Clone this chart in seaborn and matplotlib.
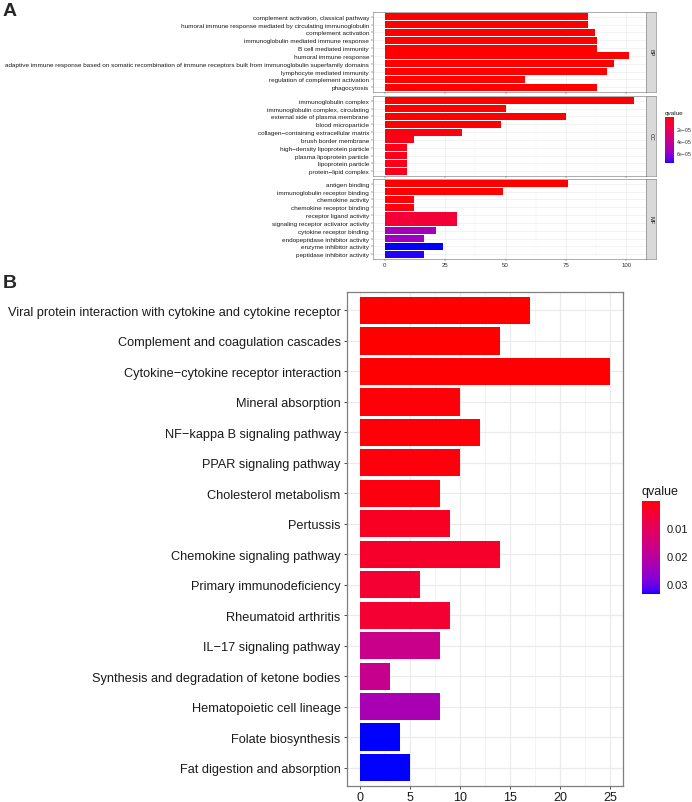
import numpy as np
import pandas as pd
import matplotlib
matplotlib.use("Agg")
import matplotlib.pyplot as plt
import seaborn as sns
from matplotlib.colors import ListedColormap, Normalize
from matplotlib.cm import ScalarMappable

# ---------------- data ----------------
bp_terms = ["complement activation, classical pathway",
            "humoral immune response mediated by circulating immunoglobulin",
            "complement activation",
            "immunoglobulin mediated immune response",
            "B cell mediated immunity",
            "humoral immune response",
            "adaptive immune response based on somatic recombination of immune receptors built from immunoglobulin superfamily domains",
            "lymphocyte mediated immunity",
            "regulation of complement activation",
            "phagocytosis"]
bp_counts = [84, 84, 87, 88, 88, 101, 95, 92, 58, 88]
bp_q = [1e-12, 1e-12, 1e-12, 1e-12, 1e-12, 1e-12, 1e-12, 1e-12, 1e-11, 1e-11]

cc_terms = ["immunoglobulin complex",
            "immunoglobulin complex, circulating",
            "external side of plasma membrane",
            "blood microparticle",
            "collagen\u2212containing extracellular matrix",
            "brush border membrane",
            "high\u2212density lipoprotein particle",
            "plasma lipoprotein particle",
            "lipoprotein particle",
            "protein\u2212lipid complex"]
cc_counts = [103, 50, 75, 48, 32, 12, 9, 9, 9, 9]
cc_q = [1e-12, 1e-9, 1e-10, 1e-8, 2e-6, 3e-6, 3.5e-6, 4e-6, 4e-6, 4e-6]

mf_terms = ["antigen binding",
            "immunoglobulin receptor binding",
            "chemokine activity",
            "chemokine receptor binding",
            "receptor ligand activity",
            "signaling receptor activator activity",
            "cytokine receptor binding",
            "endopeptidase inhibitor activity",
            "enzyme inhibitor activity",
            "peptidase inhibitor activity"]
mf_counts = [76, 49, 12, 12, 30, 30, 21, 16, 24, 16]
mf_q = [1e-12, 1e-9, 1e-6, 2e-6, 1.1e-5, 1.1e-5, 5.4e-5, 5.6e-5, 7.6e-5, 7.5e-5]

kegg_terms = ["Viral protein interaction with cytokine and cytokine receptor",
              "Complement and coagulation cascades",
              "Cytokine\u2212cytokine receptor interaction",
              "Mineral absorption",
              "NF\u2212kappa B signaling pathway",
              "PPAR signaling pathway",
              "Cholesterol metabolism",
              "Pertussis",
              "Chemokine signaling pathway",
              "Primary immunodeficiency",
              "Rheumatoid arthritis",
              "IL\u221217 signaling pathway",
              "Synthesis and degradation of ketone bodies",
              "Hematopoietic cell lineage",
              "Folate biosynthesis",
              "Fat digestion and absorption"]
kegg_counts = [17, 14, 25, 10, 12, 10, 8, 9, 14, 6, 9, 8, 3, 8, 4, 5]
kegg_q = [0.0001, 0.0002, 0.0003, 0.0005, 0.0006, 0.0008, 0.0010, 0.0028,
          0.0035, 0.0045, 0.0045, 0.0170, 0.0175, 0.0230, 0.0335, 0.0335]

go_cbar_ticks = [2e-05, 4e-05, 6e-05]
go_cbar_labels = ["2e\u221205", "4e\u221205", "6e\u221205"]
kegg_cbar_ticks = [0.01, 0.02, 0.03]
kegg_cbar_labels = ["0.01", "0.02", "0.03"]

# ---------------- colour ramp (Lab interpolation red -> blue, like ggplot) ----------------
def _f(t):
    d = 6 / 29
    return np.where(t > d ** 3, np.cbrt(t), t / (3 * d * d) + 4 / 29)

def _finv(t):
    d = 6 / 29
    return np.where(t > d, t ** 3, 3 * d * d * (t - 4 / 29))

M = np.array([[0.4124, 0.3576, 0.1805], [0.2126, 0.7152, 0.0722], [0.0193, 0.1192, 0.9505]])
WHITE = np.array([0.95047, 1.0, 1.08883])

def rgb2lab(rgb):
    c = np.asarray(rgb, float)
    lin = np.where(c <= 0.04045, c / 12.92, ((c + 0.055) / 1.055) ** 2.4)
    xyz = M @ lin / WHITE
    fx_, fy_, fz_ = _f(xyz)
    return np.array([116 * fy_ - 16, 500 * (fx_ - fy_), 200 * (fy_ - fz_)])

def lab2rgb(lab):
    L, a, b = lab
    fy_ = (L + 16) / 116
    fx_ = fy_ + a / 500
    fz_ = fy_ - b / 200
    xyz = np.array([_finv(fx_), _finv(fy_), _finv(fz_)]) * WHITE
    lin = np.linalg.solve(M, xyz)
    lin = np.clip(lin, 0, 1)
    c = np.where(lin <= 0.0031308, 12.92 * lin, 1.055 * lin ** (1 / 2.4) - 0.055)
    return np.clip(c, 0, 1)

lab_r = rgb2lab([1, 0, 0])
lab_b = rgb2lab([0, 0, 1])
ramp = [lab2rgb(lab_r * (1 - t) + lab_b * t) for t in np.linspace(0, 1, 256)]
cmap = ListedColormap(ramp)

# ---------------- figure ----------------
sns.set_theme(style="white")
plt.rcParams["font.family"] = ["Liberation Sans", "DejaVu Sans"]

W, H = 692, 803
fig = plt.figure(figsize=(W / 100, H / 100), dpi=100)

def fx(x):
    return x / W

def fy(y):
    return 1 - y / H

GRID = "#EBEBEB"
BORDER = "#7F7F7F"

def style_axes(ax, n, xmax, major, lw_scale, tick_len, tick_pad, lab_size, xlab_size, show_x):
    ax.set_ylim(n - 1 + 0.6, -0.6)
    ax.set_xlim(-0.05 * xmax, xmax * 1.05)
    ax.set_xticks(np.arange(0, xmax + 0.01, major))
    ax.set_xticks(np.arange(major / 2, xmax * 1.05, major), minor=True)
    ax.set_axisbelow(True)
    ax.grid(True, which="major", color=GRID, lw=0.9 * lw_scale)
    ax.grid(True, which="minor", axis="x", color="#F3F3F3", lw=0.6 * lw_scale)
    for s in ax.spines.values():
        s.set_color(BORDER)
        s.set_linewidth(0.9 * lw_scale)
    ax.set_xlabel("")
    ax.set_ylabel("")
    ax.tick_params(axis="both", which="major", length=tick_len, width=0.6 * lw_scale,
                   color="#333333", pad=tick_pad, left=True, bottom=True)
    ax.tick_params(axis="y", labelsize=lab_size, labelcolor="#1a1a1a")
    ax.tick_params(axis="x", labelsize=xlab_size, labelcolor="#333333")
    ax.tick_params(axis="x", which="minor", length=0)
    if not show_x:
        ax.tick_params(axis="x", labelbottom=False)

# ---- Panel A ----
go_sets = [("BP", bp_terms, bp_counts, bp_q, 13, 93),
           ("CC", cc_terms, cc_counts, cc_q, 97, 177),
           ("MF", mf_terms, mf_counts, mf_q, 180, 260)]
go_norm = Normalize(vmin=0, vmax=7.6e-05)
x0A, x1A = 372.5, 646
for i, (name, terms, counts, qs, top, bot) in enumerate(go_sets):
    ax = fig.add_axes([fx(x0A), fy(bot), fx(x1A - x0A), (bot - top) / H])
    df = pd.DataFrame({"term": terms, "count": counts, "q": qs})
    pal = {t: cmap(go_norm(q)) for t, q in zip(terms, qs)}
    sns.barplot(data=df, x="count", y="term", hue="term", palette=pal, legend=False,
                orient="h", width=0.9, saturation=1, linewidth=0, ax=ax)
    style_axes(ax, len(terms), 103, 25, 0.5, 1.5, 1, 4.6, 4.4, show_x=(i == 2))
    # strip
    sax = fig.add_axes([fx(x1A), fy(bot), fx(10), (bot - top) / H])
    sax.set_facecolor("#D9D9D9")
    sax.set_xticks([])
    sax.set_yticks([])
    for s in sax.spines.values():
        s.set_color(BORDER)
        s.set_linewidth(0.45)
    sax.text(0.5, 0.5, name, rotation=-90, ha="center", va="center", fontsize=4,
             color="#1a1a1a", transform=sax.transAxes)

# legend A
caxA = fig.add_axes([fx(665), fy(164), fx(9), 46 / H])
cbA = fig.colorbar(ScalarMappable(norm=go_norm, cmap=cmap), cax=caxA)
cbA.outline.set_visible(False)
caxA.invert_yaxis()
cbA.set_ticks(go_cbar_ticks)
cbA.set_ticklabels(go_cbar_labels)
caxA.tick_params(labelsize=3.8, length=1.5, width=0.4, color="white", direction="in",
                 pad=2, left=True, right=True, labelcolor="#333333")
fig.text(fx(665), fy(113), "qvalue", fontsize=4.6, va="center", ha="left", color="#1a1a1a")

# ---- Panel B ----
axB = fig.add_axes([fx(347), fy(787), fx(623 - 347), (787 - 293) / H])
dfk = pd.DataFrame({"term": kegg_terms, "count": kegg_counts, "q": kegg_q})
kegg_norm = Normalize(vmin=min(kegg_q), vmax=max(kegg_q))
palk = {t: cmap(kegg_norm(q)) for t, q in zip(kegg_terms, kegg_q)}
sns.barplot(data=dfk, x="count", y="term", hue="term", palette=palk, legend=False,
            orient="h", width=0.9, saturation=1, linewidth=0, ax=axB)
style_axes(axB, len(kegg_terms), 25, 5, 1.0, 2.5, 2, 9.2, 9.0, show_x=True)
axB.tick_params(axis="x", labelcolor="#1a1a1a", pad=0.8)

caxB = fig.add_axes([fx(642), fy(595), fx(18), 93.3 / H])
cbB = fig.colorbar(ScalarMappable(norm=kegg_norm, cmap=cmap), cax=caxB)
cbB.outline.set_visible(False)
caxB.invert_yaxis()
cbB.set_ticks(kegg_cbar_ticks)
cbB.set_ticklabels(kegg_cbar_labels)
caxB.tick_params(labelsize=8, length=3.5, width=0.6, color="white", direction="in",
                 pad=5, left=True, right=True, labelcolor="#1a1a1a")
fig.text(fx(641), fy(492), "qvalue", fontsize=9, va="center", ha="left", color="#1a1a1a")

# panel labels
fig.text(fx(3), fy(12), "A", fontsize=14, fontweight="bold", va="center", ha="left")
fig.text(fx(3), fy(284), "B", fontsize=14, fontweight="bold", va="center", ha="left")

fig.savefig("out.png", dpi=100)
